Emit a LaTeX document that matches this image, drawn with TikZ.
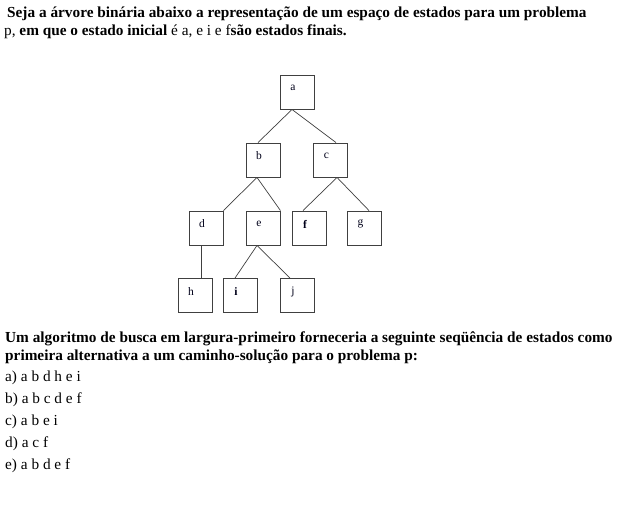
\documentclass[tikz,border=0pt]{standalone}
\usepackage{fontspec}
\setmainfont{Liberation Serif}
\begin{document}
\begin{tikzpicture}[x=1pt,y=-1pt,
  box/.style={draw=black!75,line width=0.9pt,minimum width=34pt,minimum height=34pt,inner sep=0pt},
  lbl/.style={font=\fontsize{11.5}{13}\selectfont,text=black!90!blue},
  edge/.style={draw=black!75,line width=0.7pt},
  txt/.style={anchor=base west,inner sep=0pt,font=\fontsize{15.3}{18}\selectfont}]
\useasboundingbox (0,0) rectangle (632,509);
% title
\node[txt] (t1) at (7,17) {\bfseries Seja a árvore binária abaixo a representação de um espaço de estados para um problema};
\node[txt] (t2) at (4,35) {p, \textbf{em que o estado inicial} é a, e i e f\textbf{são estados finais.}};
% tree
\node[box] (a) at (297,92) {};
\node[box] (b) at (263,160) {};
\node[box] (c) at (330.5,160) {};
\node[box] (d) at (206,228) {};
\node[box] (e) at (263,228) {};
\node[box] (f) at (309,228) {};
\node[box] (g) at (364.5,228) {};
\node[box] (h) at (195,295.5) {};
\node[box] (i) at (240,295.5) {};
\node[box] (j) at (297,295.5) {};
\node[lbl] at ([shift={(-4,-4)}]a.center) {a};
\node[lbl] at ([shift={(-4,-4)}]b.center) {b};
\node[lbl] at ([shift={(-4,-4)}]c.center) {c};
\node[lbl] at ([shift={(-4,-4)}]d.center) {d};
\node[lbl] at ([shift={(-4,-4)}]e.center) {e};
\node[lbl] at ([shift={(-4,-4)}]f.center) {\bfseries f};
\node[lbl] at ([shift={(-4,-4)}]g.center) {g};
\node[lbl] at ([shift={(-4,-4)}]h.center) {h};
\node[lbl] at ([shift={(-4,-4)}]i.center) {\bfseries i};
\node[lbl] at ([shift={(-4,-4)}]j.center) {j};
\draw[edge] ([xshift=-5pt]a.south) -- ([xshift=-5pt]b.north);
\draw[edge] ([xshift=-5pt]a.south) -- ([xshift=5.5pt]c.north);
\draw[edge] ([xshift=-6pt]b.south) -- (d.north east);
\draw[edge] ([xshift=-6pt]b.south) -- (e.north east);
\draw[edge] ([xshift=6.5pt]c.south) -- ([xshift=-6pt]f.north);
\draw[edge] ([xshift=6.5pt]c.south) -- ([xshift=4.5pt]g.north);
\draw[edge] ([xshift=-5pt]d.south) -- ([xshift=6pt]h.north);
\draw[edge] ([xshift=-6pt]e.south) -- ([xshift=-5pt]i.north);
\draw[edge] ([xshift=-6pt]e.south) -- ([xshift=-7pt]j.north);
% question
\node[txt] (q1) at (5,342) {\bfseries Um algoritmo de busca em largura-primeiro forneceria a seguinte seqüência de estados como};
\node[txt] (q2) at (5,360) {\bfseries primeira alternativa a um caminho-solução para o problema p:};
\node[txt] (oa) at (5,381) {a) a b d h e i};
\node[txt] (ob) at (5,403) {b) a b c d e f};
\node[txt] (oc) at (5,425) {c) a b e i};
\node[txt] (od) at (5,447) {d) a c f};
\node[txt] (oe) at (5,469) {e) a b d e f};
\end{tikzpicture}
\end{document}
